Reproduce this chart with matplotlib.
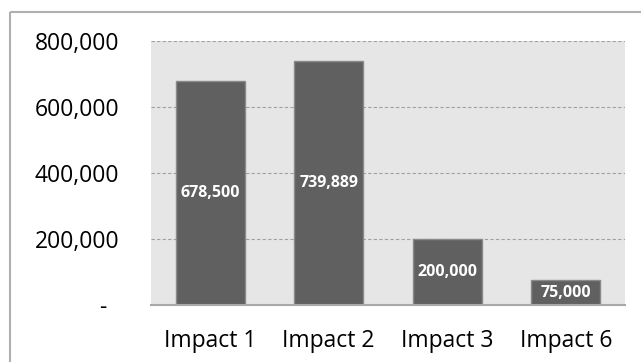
import matplotlib
matplotlib.use("Agg")
import matplotlib.pyplot as plt
from matplotlib.patches import Rectangle
from matplotlib.ticker import FixedLocator, FuncFormatter

categories = ["Impact 1", "Impact 2", "Impact 3", "Impact 6"]
values = [678500, 739889, 200000, 75000]
yticks = [0, 200000, 400000, 600000, 800000]

W, H = 641, 362
fig = plt.figure(figsize=(W / 100, H / 100), dpi=100)
fig.patch.set_facecolor("white")

# outer border
fig.patches.append(Rectangle((10 / W, 1 - 12 / H - 0.0), 1.2, -1.2, transform=fig.transFigure,
                             fill=False, edgecolor="#b0b0b0", linewidth=1.5, zorder=0))

left, right, top, bottom = 151, 625, 41, 305
ax = fig.add_axes([left / W, 1 - bottom / H, (right - left) / W, (bottom - top) / H])
ax.set_facecolor("#e6e6e6")

x = list(range(len(categories)))
bars = ax.bar(x, values, width=0.58, color="#606060", edgecolor="#8a8a8a", linewidth=1, zorder=3)
ax.set_xlim(-0.5, len(categories) - 0.5)
ax.set_ylim(0, 800000)

ax.yaxis.set_major_locator(FixedLocator(yticks))
ax.yaxis.set_major_formatter(FuncFormatter(lambda v, p: "-  " if v == 0 else f"{int(v):,}"))
ax.grid(axis="y", color="#a0a0a0", linestyle=(0, (3, 2)), linewidth=0.8, zorder=1)
ax.set_axisbelow(True)

for s in ["top", "right", "left"]:
    ax.spines[s].set_visible(False)
ax.spines["bottom"].set_color("#a8a8a8")
ax.spines["bottom"].set_linewidth(1.5)
ax.spines["bottom"].set_zorder(4)

ax.set_xticks(x)
ax.set_xticklabels(categories)
ax.tick_params(axis="both", length=0, labelsize=16.5, labelcolor="black")
ax.tick_params(axis="y", pad=23)
ax.tick_params(axis="x", pad=17)
for lab in ax.get_xticklabels() + ax.get_yticklabels():
    lab.set_family(["Open Sans", "DejaVu Sans"])

for xi, v in zip(x, values):
    ax.text(xi, v / 2, f"{v:,}", ha="center", va="center", color="white",
            fontsize=11.5, fontweight="bold", family=["Open Sans", "DejaVu Sans"], zorder=5)

fig.savefig("out.png", dpi=100)
